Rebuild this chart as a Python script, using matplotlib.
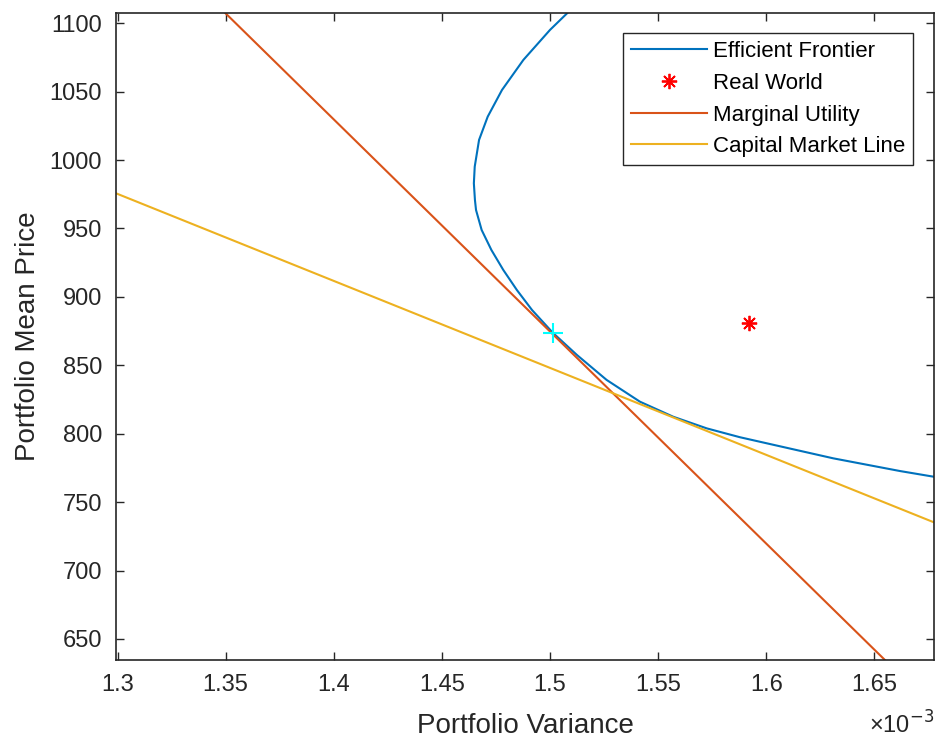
import matplotlib
matplotlib.use("Agg")
import matplotlib.pyplot as plt

plt.rcParams['font.family'] = ['Liberation Sans', 'DejaVu Sans']

# Efficient frontier (variance in units of 1e-3, mean price)
ef_var = [1.5082, 1.5000, 1.4877, 1.4778, 1.4712, 1.4672, 1.4652, 1.4648, 1.4653,
          1.4658, 1.4684, 1.4729, 1.4784, 1.4847, 1.4917, 1.5013, 1.5125, 1.5262,
          1.5416, 1.5570, 1.5725, 1.5879, 1.6002, 1.6310, 1.6619, 1.6773]
ef_mean = [1107.7, 1095.1, 1073.2, 1051.2, 1031.7, 1014.7, 995.2, 983.0, 970.8,
           963.5, 948.9, 934.3, 919.7, 905.0, 890.4, 873.8, 857.5, 839.3,
           823.4, 812.4, 803.9, 797.4, 793.0, 782.0, 772.7, 768.6]

# Real world point
rw_var = [1.5922]
rw_mean = [880.7]

# Marginal utility line
mu_var = [1.3497, 1.6549]
mu_mean = [1107.7, 634.6]

# Capital market line
cml_var = [1.2993, 1.6776]
cml_mean = [975.7, 735.2]

# Tangency point
tp_var = [1.5013]
tp_mean = [873.8]

xticks = [1.3, 1.35, 1.4, 1.45, 1.5, 1.55, 1.6, 1.65]
xticklabels = ['1.3', '1.35', '1.4', '1.45', '1.5', '1.55', '1.6', '1.65']
yticks = [650, 700, 750, 800, 850, 900, 950, 1000, 1050, 1100]

c_blue = '#0072BD'
c_orange = '#D95319'
c_yellow = '#EDB120'
axcol = '#262626'

fig = plt.figure(figsize=(9.39, 7.42), dpi=100)
ax = fig.add_axes([116/939, 82/742, 818/939, 647.3/742])

ax.plot(ef_var, ef_mean, color=c_blue, lw=1.5, label='Efficient Frontier')
ax.plot(rw_var, rw_mean, linestyle='none', marker=(8, 2, 0), color='red',
        markersize=11, mew=1.3, label='Real World')
ax.plot(mu_var, mu_mean, color=c_orange, lw=1.5, label='Marginal Utility')
ax.plot(cml_var, cml_mean, color=c_yellow, lw=1.5, label='Capital Market Line')
ax.plot(tp_var, tp_mean, linestyle='none', marker='+', color='cyan',
        markersize=14, mew=1.5)

ax.set_xlim(1.2993, 1.6776)
ax.set_ylim(634.6, 1107.7)
ax.set_xticks(xticks)
ax.set_xticklabels(xticklabels)
ax.set_yticks(yticks)

for s in ax.spines.values():
    s.set_color(axcol)
    s.set_linewidth(1.2)
ax.tick_params(direction='in', length=6, width=1, colors=axcol,
               labelsize=17, top=True, right=True, pad=10)

ax.set_xlabel('Portfolio Variance', fontsize=20, color=axcol, labelpad=12)
ax.set_ylabel('Portfolio Mean Price', fontsize=20, color=axcol, labelpad=6)

fig.text(902/939, 1 - 739/742, '×10$^{-3}$', fontsize=17, color=axcol,
         ha='center', va='bottom')

leg = ax.legend(loc='upper right', bbox_to_anchor=(0.9747, 0.968),
                borderaxespad=0, fontsize=16, handlelength=3.4,
                handletextpad=0.3, labelspacing=0.48, borderpad=0.35,
                fancybox=False, framealpha=1, edgecolor=axcol)
leg.get_frame().set_linewidth(1.0)

fig.savefig('out.png', dpi=100)
